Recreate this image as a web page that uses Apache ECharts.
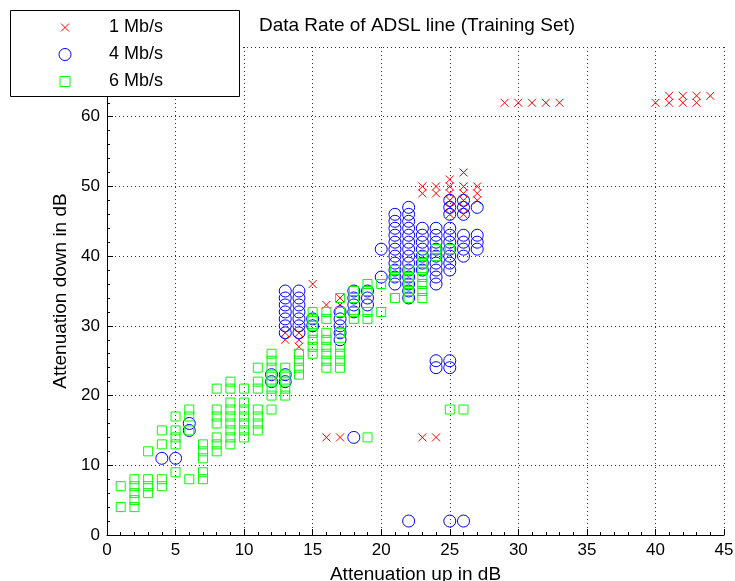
<!DOCTYPE html>
<html><head><meta charset="utf-8">
<script src="https://cdn.jsdelivr.net/npm/echarts@6/dist/echarts.min.js"></script>
<style>html,body{margin:0;padding:0;background:#fff}#c{width:735px;height:581px}</style>
</head><body><div id="c"></div>
<script>
const chartTitle = 'Data Rate of ADSL line (Training Set)';
const xAxisName = 'Attenuation up in dB';
const yAxisName = 'Attenuation down in dB';
const seriesNames = ['1 Mb/s', '4 Mb/s', '6 Mb/s'];
const xRange = [0, 45, 5];
const yRange = [0, 70, 10];

// columns: [x, [y values]]
const rate1Cols = [
  [13, [29, 28]], [14, [29, 28, 27]], [15, [36]], [16, [33, 14]], [17, [34, 33, 14]],
  [23, [50, 49, 14]], [24, [50, 49, 14]], [25, [51, 50, 49, 48, 47, 46]],
  [26, [52, 50, 49, 48, 47, 46]], [27, [50, 49, 48]],
  [29, [62]], [30, [62]], [31, [62]], [32, [62]], [33, [62]],
  [40, [62]], [41, [62, 63]], [42, [62, 63]], [43, [62, 63]], [44, [63]]
];
const rate4Cols = [
  [4, [11]], [5, [11]], [6, [16, 15]], [12, [23, 22]],
  [13, [35, 34, 33, 32, 31, 30, 29, 23, 22]], [14, [35, 34, 33, 32, 31, 30, 29]],
  [15, [31, 30]], [17, [32, 31, 30, 29, 28]], [18, [35, 34, 33, 32, 14]], [19, [35, 34, 33]],
  [20, [41, 37]], [21, [46, 45, 44, 43, 42, 41, 40, 39, 38, 37, 36]],
  [22, [47, 46, 45, 44, 43, 42, 41, 40, 39, 38, 37, 36, 35, 34, 2]],
  [23, [44, 43, 42, 41, 40, 39, 38]], [24, [44, 43, 42, 41, 40, 39, 38, 37, 36, 25, 24]],
  [25, [48, 47, 46, 44, 43, 42, 41, 40, 39, 38, 25, 24, 2]],
  [26, [48, 47, 46, 43, 42, 41, 40, 2]], [27, [47, 43, 42, 41]]
];
const rate6Cols = [
  [1, [7, 4]], [2, [8, 7, 6, 5, 4]], [3, [12, 8, 7, 6]], [4, [15, 13, 8, 7]],
  [5, [17, 15, 14, 13, 9]], [6, [18, 17, 15, 8]], [7, [13, 12, 11, 9, 8]],
  [8, [21, 18, 17, 16, 14, 13, 12]], [9, [22, 21, 19, 18, 17, 16, 15, 14, 13]],
  [10, [21, 19, 18, 17, 16, 15, 14]], [11, [24, 22, 21, 18, 17, 16, 15]],
  [12, [26, 25, 24, 23, 22, 21, 20, 18]], [13, [24, 23, 22, 21, 20]], [14, [26, 25, 24, 23]],
  [15, [32, 31, 30, 29, 28, 27, 26]], [16, [32, 31, 29, 28, 27, 26, 25, 24]],
  [17, [34, 32, 29, 27, 26, 25, 24]], [18, [35, 34, 32, 31]], [19, [36, 35, 32, 31, 14]],
  [20, [36, 32]], [21, [38, 37, 34]], [22, [38, 37, 36, 35, 34]],
  [23, [40, 39, 38, 37, 36, 35, 34]], [24, [41, 40]], [25, [41, 18]], [26, [18]]
];

function flatten(cols) {
  const out = [];
  cols.forEach(function (c) { c[1].forEach(function (y) { out.push([c[0], y]); }); });
  return out;
}

const FONT = 'Liberation Sans, Arial, Helvetica, sans-serif';
const FS_TICK = 17;
const FS_NAME = 19;
const FS_TITLE = 19;
const FS_LEGEND = 18;
const xSym = 'path://M0,0L1,1M1,0L0,1';
const xSymLegend = 'path://M-0.25,-0.25M1.25,1.25M0,0L1,1M1,0L0,1';
const sqSymLegend = 'path://M-0.1,-0.1M1.1,1.1M0,0L1,0L1,1L0,1Z';
const colors = ['#ff0000', '#0000ff', '#00ff00'];

const chart = echarts.init(document.getElementById('c'), null, {renderer: 'canvas'});

function axisCommon(range, name, isX) {
  return {
    type: 'value', min: range[0], max: range[1], interval: range[2], silent: true,
    name: name, nameLocation: 'middle', nameGap: isX ? 30 : 32,
    nameTextStyle: {fontFamily: FONT, fontSize: FS_NAME, color: '#000'},
    axisLine: {show: true, onZero: false, lineStyle: {color: '#000', width: 1}},
    axisTick: {show: true, inside: true, length: 6, lineStyle: {color: '#000'}},
    minorTick: {show: true, splitNumber: 5, length: 3, lineStyle: {color: '#000'}},
    axisLabel: {fontFamily: FONT, fontSize: FS_TICK, color: '#000', margin: 7,
      formatter: function (v) { return String(v); }},
    splitLine: {show: true, lineStyle: {color: '#333', width: 1, type: [1, 3]}},
    minorSplitLine: {show: false}
  };
}

function seriesDef(idx, cols, symbol, size, z) {
  return {
    name: seriesNames[idx], type: 'scatter', data: flatten(cols), symbol: symbol, symbolSize: size,
    silent: true, legendHoverLink: false,
    itemStyle: {color: 'none', borderColor: colors[idx], borderWidth: 1, opacity: 1},
    emphasis: {disabled: true}, blur: {itemStyle: {opacity: 1}}, z: z
  };
}

const option = {
  animation: false,
  backgroundColor: '#fff',
  tooltip: {show: false},
  color: colors,
  title: {
    text: chartTitle, left: 417, top: 16, padding: 0, textAlign: 'center',
    textStyle: {fontFamily: FONT, fontSize: FS_TITLE, fontWeight: 'normal', color: '#000'}
  },
  grid: {left: 107, right: 11, top: 47, bottom: 46, containLabel: false, outerBoundsMode: 'none'},
  xAxis: axisCommon(xRange, xAxisName, true),
  yAxis: axisCommon(yRange, yAxisName, false),
  graphic: [{
    type: 'rect', z: 50, silent: true,
    shape: {x: 10.5, y: 10.5, width: 229, height: 86},
    style: {fill: '#fff', stroke: '#000', lineWidth: 1}
  }],
  legend: {
    z: 60, orient: 'vertical', left: 56.5, top: 18.5, padding: 0,
    itemWidth: 12, itemHeight: 12, itemGap: 9, selectedMode: false, silent: true,
    textStyle: {fontFamily: FONT, fontSize: FS_LEGEND, color: '#000', padding: [0, 0, 0, 33], lineHeight: 18},
    data: [
      {name: seriesNames[0], icon: xSymLegend, itemStyle: {color: 'none', borderColor: colors[0], borderWidth: 1}},
      {name: seriesNames[1], icon: 'circle', itemStyle: {color: 'none', borderColor: colors[1], borderWidth: 1}},
      {name: seriesNames[2], icon: sqSymLegend, itemStyle: {color: 'none', borderColor: colors[2], borderWidth: 1}}
    ]
  },
  series: [
    seriesDef(0, rate1Cols, xSym, 8, 2),
    seriesDef(1, rate4Cols, 'circle', 12, 3),
    seriesDef(2, rate6Cols, 'rect', 9, 4)
  ]
};
chart.setOption(option);
</script></body></html>
